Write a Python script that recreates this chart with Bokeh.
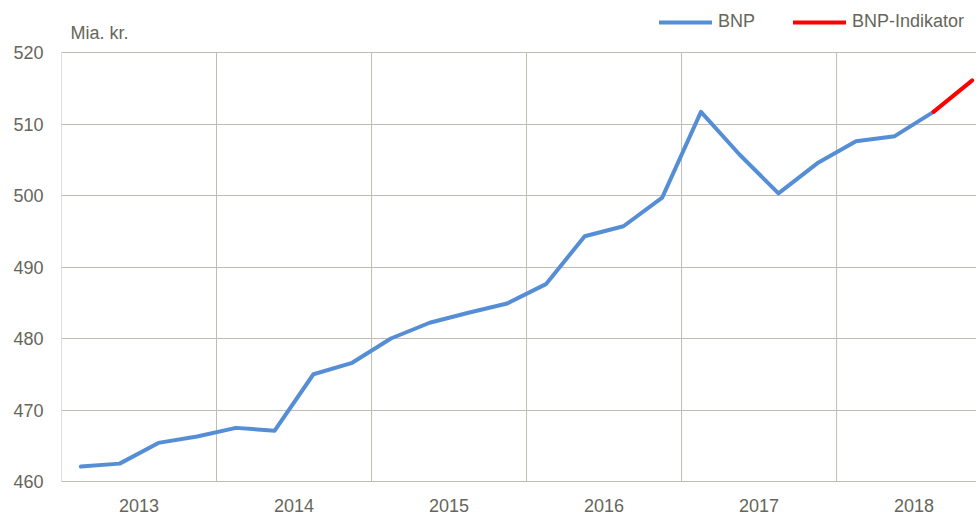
from bokeh.plotting import figure
from bokeh.models import FixedTicker, Legend, LegendItem, Label, Range1d
from bokeh.embed import file_html
from bokeh.resources import INLINE

# Quarterly GDP (BNP), 2013Q1 .. 2018Q3, and indicator for 2018Q3..2018Q4
quarters = list(range(24))
bnp = [462.1, 462.5, 465.4, 466.3, 467.5, 467.1, 475.0, 476.6,
       480.0, 482.2, 483.6, 484.9, 487.6, 494.3, 495.7, 499.7,
       511.7, 505.7, 500.3, 504.5, 507.6, 508.3, 511.7]
indikator_x = [22, 23]
indikator = [511.7, 516.1]
years = ["2013", "2014", "2015", "2016", "2017", "2018"]
y_ticks = [460, 470, 480, 490, 500, 510, 520]

FONT = "Liberation Sans"
FS = "18px"
TXT = "#66665a"
GRID = "#bfbdb2"

FRAME_H = 481
Y_TOP = 520 + 52 / 7.15   # room above the 520 line for the title and legend

p = figure(width=976, height=515, output_backend="svg", toolbar_location=None,
           x_range=Range1d(-0.5, 23.11), y_range=Range1d(460, Y_TOP),
           min_border_left=61, min_border_right=0, min_border_top=0,
           min_border_bottom=34)
p.outline_line_color = None

# year separators (vertical grid lines limited to the 460-520 band)
bounds = [-0.5 + 4 * i for i in range(len(years))]
p.segment(x0=bounds, y0=[y_ticks[0]] * len(bounds), x1=bounds,
          y1=[y_ticks[-1]] * len(bounds), line_color=GRID, line_width=1)

blue = p.line(quarters[:len(bnp)], bnp, line_color="#558ed5", line_width=4,
              line_join="round", line_cap="round")
red = p.line(indikator_x, indikator, line_color="#ff0000", line_width=4,
             line_cap="round")

# axes
year_centers = [1.5 + 4 * i for i in range(len(years))]
p.xaxis.ticker = FixedTicker(ticks=year_centers)
p.xaxis.major_label_overrides = {c: y for c, y in zip(year_centers, years)}
p.yaxis.ticker = FixedTicker(ticks=y_ticks)
p.xgrid.grid_line_color = None
p.ygrid.grid_line_color = GRID
p.ygrid.grid_line_width = 1

for ax in (p.xaxis[0], p.yaxis[0]):
    ax.major_tick_line_color = None
    ax.minor_tick_line_color = None
    ax.major_tick_out = 0
    ax.major_tick_in = 0
    ax.minor_tick_out = 0
    ax.minor_tick_in = 0
    ax.major_label_text_font = FONT
    ax.major_label_text_font_size = FS
    ax.major_label_text_color = TXT
p.xaxis.axis_line_color = GRID
p.yaxis.axis_line_color = None
p.yaxis.major_label_standoff = 18
p.xaxis.major_label_standoff = 17

p.add_layout(Label(x=9, y=FRAME_H - 32, x_units="screen", y_units="screen",
                   text="Mia. kr.", text_font=FONT, text_font_size=FS,
                   text_color=TXT, text_baseline="alphabetic"))

legend = Legend(items=[LegendItem(label="BNP", renderers=[blue]),
                       LegendItem(label="BNP-Indikator", renderers=[red])],
                orientation="horizontal", location=(598, FRAME_H - 32),
                padding=0, margin=0, spacing=38, label_standoff=6,
                glyph_width=53, glyph_height=20,
                label_text_font=FONT, label_text_font_size=FS,
                label_text_color=TXT, border_line_alpha=0,
                background_fill_alpha=0)
p.add_layout(legend, "center")

open("out.html", "w").write(file_html(p, INLINE))
